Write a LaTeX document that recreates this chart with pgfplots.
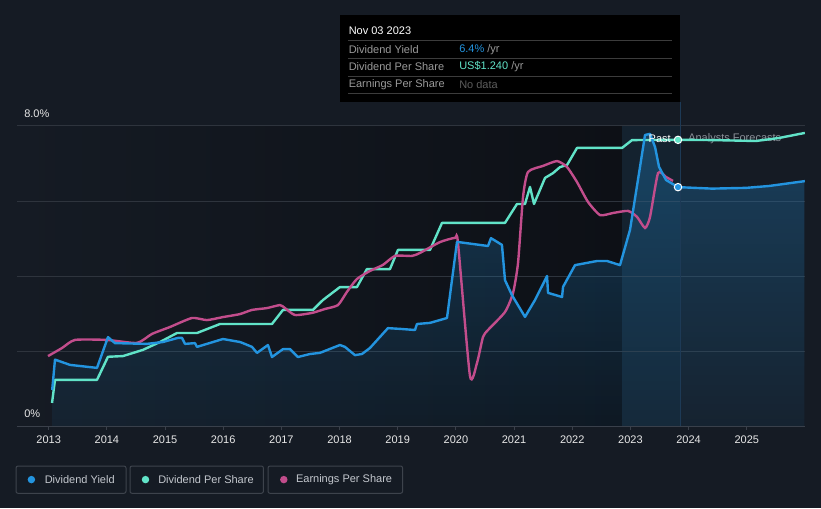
\documentclass[border=0pt]{standalone}
\usepackage{fontspec}
\setmainfont{Liberation Sans}
\usepackage{pgfplots}
\pgfplotsset{compat=1.18}
\usepackage{pgfplotstable}
\usetikzlibrary{fadings}

\definecolor{bg}{HTML}{151B24}
\definecolor{pastdark}{HTML}{0D1016}
\definecolor{band}{HTML}{14222F}
\definecolor{gridc}{HTML}{2E343D}
\definecolor{axisc}{HTML}{3A404A}
\definecolor{tickc}{HTML}{E8E8E8}
\definecolor{yieldblue}{HTML}{2394DF}
\definecolor{dpsc}{HTML}{61E3C8}
\definecolor{epsc}{HTML}{C24D8C}
\definecolor{vline}{HTML}{1D3A56}
\definecolor{sepc}{HTML}{3C3C3C}
\definecolor{labc}{HTML}{9A9A9A}
\definecolor{nodata}{HTML}{5C5C5C}
\definecolor{forec}{HTML}{8B9098}
\definecolor{legbord}{HTML}{3D434C}
\definecolor{legtext}{HTML}{C4C8CE}

\newcommand\fs{\fontsize{8.25}{10}\selectfont}
\tikzfading[name=softsouth, top color=transparent!0, bottom color=transparent!78]

% dividend yield, %
\pgfplotstableread{
year yield
2013.060 0.96
2013.108 1.77
2013.366 1.63
2013.830 1.55
2014.019 2.37
2014.139 2.21
2014.689 2.19
2014.964 2.24
2015.222 2.35
2015.291 2.35
2015.343 2.19
2015.514 2.21
2015.549 2.11
2015.995 2.32
2016.287 2.24
2016.339 2.21
2016.494 2.11
2016.580 1.95
2016.769 2.16
2016.838 1.84
2017.027 2.05
2017.147 2.05
2017.284 1.84
2017.491 1.92
2017.662 1.95
2018.006 2.16
2018.092 2.11
2018.264 1.89
2018.384 1.92
2018.522 2.08
2018.831 2.61
2019.038 2.59
2019.296 2.56
2019.330 2.72
2019.554 2.75
2019.846 2.88
2020.018 4.91
2020.551 4.80
2020.602 5.01
2020.791 4.83
2020.843 3.89
2020.963 3.49
2021.187 2.91
2021.359 3.36
2021.566 4.00
2021.583 3.55
2021.824 3.44
2021.841 3.71
2022.047 4.29
2022.425 4.40
2022.597 4.40
2022.820 4.29
2022.992 5.23
2023.164 6.91
2023.250 7.76
2023.336 7.79
2023.422 7.44
2023.491 6.91
2023.611 6.56
2023.817 6.37
2024.401 6.33
2024.985 6.35
2025.380 6.40
2025.997 6.53
}\yieldtab

% dividend per share, US$
\pgfplotstableread{
year dps
2013.057 0.100
2013.108 0.200
2013.830 0.200
2014.019 0.300
2014.277 0.303
2014.621 0.330
2014.913 0.364
2015.205 0.403
2015.549 0.403
2015.944 0.442
2016.838 0.442
2017.027 0.503
2017.542 0.503
2017.714 0.546
2018.006 0.602
2018.298 0.602
2018.470 0.680
2018.866 0.680
2019.003 0.763
2019.554 0.763
2019.760 0.880
2020.843 0.880
2021.049 0.962
2021.187 0.962
2021.273 1.036
2021.342 0.962
2021.531 1.075
2021.669 1.096
2021.789 1.122
2021.910 1.131
2022.081 1.205
2022.855 1.205
2023.027 1.239
2023.817 1.240
2024.401 1.239
2025.157 1.235
2025.552 1.248
2025.997 1.270
}\dpstab

% earnings per share, US$
\pgfplotstableread{
year eps
2012.988 0.303
2013.229 0.338
2013.452 0.373
2014.002 0.373
2014.517 0.360
2014.775 0.399
2015.084 0.429
2015.463 0.468
2015.720 0.459
2015.995 0.472
2016.287 0.485
2016.494 0.503
2016.752 0.511
2016.975 0.524
2017.061 0.511
2017.233 0.481
2017.525 0.490
2017.748 0.507
2017.972 0.524
2018.126 0.581
2018.298 0.637
2018.522 0.672
2018.745 0.698
2018.952 0.737
2019.244 0.737
2019.382 0.750
2019.726 0.797
2019.983 0.815
2020.035 0.793
2020.241 0.217
2020.362 0.273
2020.465 0.386
2020.551 0.416
2020.843 0.494
2020.981 0.576
2021.067 0.706
2021.153 0.992
2021.239 1.101
2021.497 1.127
2021.738 1.148
2021.910 1.122
2022.081 1.057
2022.270 0.971
2022.477 0.914
2022.700 0.923
2022.958 0.932
2023.113 0.906
2023.250 0.858
2023.336 0.906
2023.474 1.096
2023.611 1.079
2023.731 1.062
}\epstab

\pgfplotsset{base/.style={at={(12.75pt,61.5pt)}, anchor=south west,
  scale only axis, width=591pt, height=225pt, xmin=2012.455, xmax=2026}}

\begin{document}
\begin{tikzpicture}
\fill[bg] (0,0) rectangle (615.75pt,381pt);

\begin{scope}[x=0.75pt,y=-0.75pt,yshift=381pt]
  \shade[left color=bg, right color=pastdark] (17,126) rectangle (622,426);
  \fill[band] (622,126) rectangle (680,426);
  \node[anchor=west, inner sep=0, text=forec, font=\fs] at (688,138.5) {Analysts Forecasts};
\end{scope}

% yield axis: grid, ticks, area
\begin{axis}[base, ymin=0, ymax=8,
  axis x line*=bottom, axis y line*=left,
  x axis line style={-, draw=axisc, line width=0.75pt},
  y axis line style={draw=none},
  xtick={2013,...,2025},
  xticklabels={2013,2014,2015,2016,2017,2018,2019,2020,2021,2022,2023,2024,2025},
  xticklabel style={font=\fs, text=tickc, yshift=-1pt},
  tick align=outside, major tick length=3pt,
  xtick style={draw=axisc, line width=0.75pt},
  ytick={2,4,6,8}, yticklabels={}, ytick style={draw=none},
  ymajorgrids, grid style={draw=gridc, line width=0.75pt},
]
\addplot[draw=none, fill=yieldblue, fill opacity=0.3, path fading=softsouth]
  table[x=year, y=yield]{\yieldtab} \closedcycle;
\end{axis}

\begin{scope}[x=0.75pt,y=-0.75pt,yshift=381pt]
  \draw[vline, line width=0.75pt] (680,102) -- (680,426);
\end{scope}

% per share axis (hidden)
\begin{axis}[base, hide axis, ymin=0, ymax=1.30]
\addplot[dpsc, line width=1.8pt, line join=round] table[x=year, y=dps]{\dpstab};
\addplot[epsc, line width=1.8pt, smooth, tension=0.35] table[x=year, y=eps]{\epstab};
\addplot[only marks, mark=*, mark size=2.8pt,
  mark options={fill=dpsc, draw=white, line width=0.75pt}] coordinates {(2023.817,1.240)};
\end{axis}

% yield line on top
\begin{axis}[base, hide axis, ymin=0, ymax=8]
\addplot[yieldblue, line width=1.8pt, line join=round] table[x=year, y=yield]{\yieldtab};
\addplot[only marks, mark=*, mark size=2.8pt,
  mark options={fill=yieldblue, draw=white, line width=0.75pt}] coordinates {(2023.817,6.37)};
\end{axis}

\begin{scope}[x=0.75pt,y=-0.75pt,yshift=381pt, every node/.style={inner sep=0, font=\fs}]
  % y labels
  \node[anchor=west, text=tickc] at (24,114) {8.0\%};
  \node[anchor=west, text=tickc] at (24,414) {0\%};
  \node[anchor=east, text=white] at (671,138.5) {Past};

  % tooltip
  \fill[black] (340,15) rectangle (680,102);
  \node[anchor=west, text=white] at (348.5,31) {Nov 03 2023};
  \foreach \yy in {41,58.3,76.3,93.7} \draw[sepc, line width=0.75pt] (348,\yy) -- (672,\yy);
  \node[anchor=west, text=labc] at (348.5,49.5) {Dividend Yield};
  \node[anchor=west, text=labc] at (348.5,66.8) {Dividend Per Share};
  \node[anchor=west, text=labc] at (348.5,84.6) {Earnings Per Share};
  \node[anchor=west, text=labc] at (459,49.5) {\textcolor{yieldblue}{6.4\%} /yr};
  \node[anchor=west, text=labc] at (459,66.8) {\textcolor{dpsc}{US\$1.240} /yr};
  \node[anchor=west, text=nodata] at (459,84.6) {No data};

  % legend
  \draw[legbord, line width=0.75pt, rounded corners=1.5pt] (16,466) rectangle (126,493.3);
  \draw[legbord, line width=0.75pt, rounded corners=1.5pt] (130,466) rectangle (263.4,493.3);
  \draw[legbord, line width=0.75pt, rounded corners=1.5pt] (268,466) rectangle (402.6,493.3);
  \fill[yieldblue] (31.4,479.6) circle (2.8pt);
  \fill[dpsc] (145.5,479.6) circle (2.8pt);
  \fill[epsc] (283.8,479.6) circle (2.8pt);
  \node[anchor=west, text=legtext] at (44.5,479.6) {Dividend Yield};
  \node[anchor=west, text=legtext] at (158,479.6) {Dividend Per Share};
  \node[anchor=west, text=legtext] at (295.8,479.6) {Earnings Per Share};
\end{scope}
\end{tikzpicture}
\end{document}
